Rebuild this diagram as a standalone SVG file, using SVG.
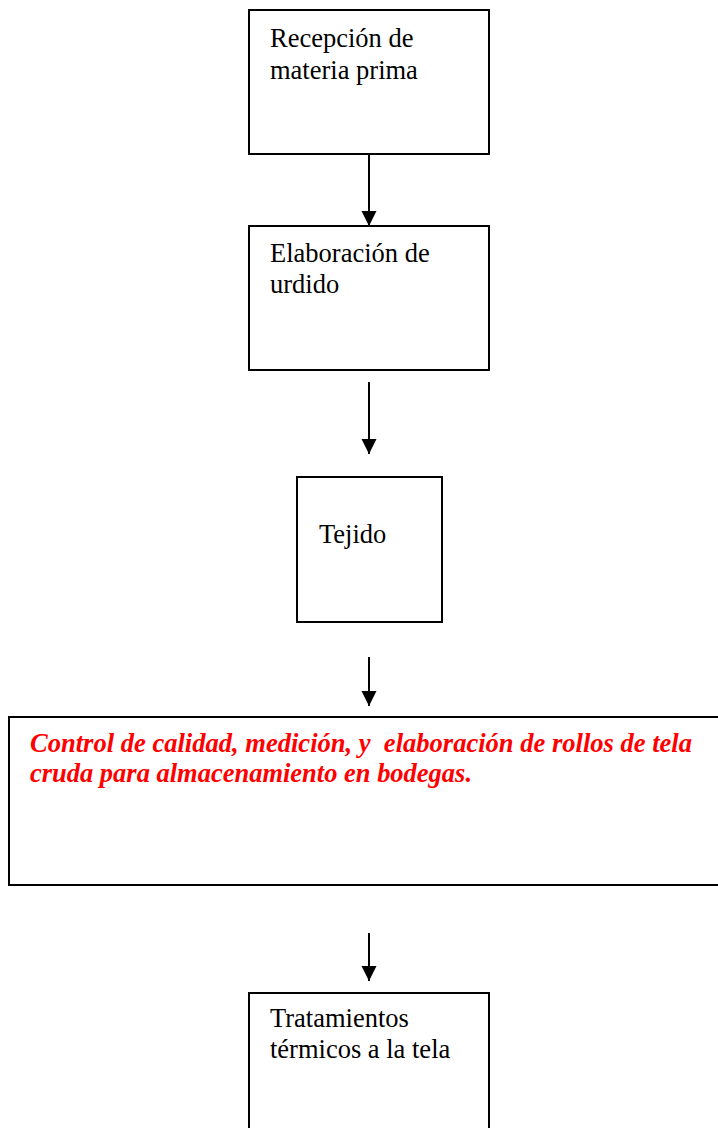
<svg xmlns="http://www.w3.org/2000/svg" width="718" height="1128" viewBox="0 0 718 1128">
<defs>
<marker id="ah" markerUnits="userSpaceOnUse" markerWidth="16" markerHeight="16" refX="15" refY="7.5" orient="auto">
<path d="M0,0 L15,7.5 L0,15 Z" fill="#000"/>
</marker>
<style>
.box{fill:#fff;stroke:#000;stroke-width:2}
.t{font-family:"Liberation Serif","Times New Roman",serif;font-size:26.5px;fill:#000}
.r{font-family:"Liberation Serif","Times New Roman",serif;font-size:27px;font-weight:bold;font-style:italic;fill:#ff0000}
.c{stroke:#000;stroke-width:2;fill:none}
</style>
</defs>
<rect width="718" height="1128" fill="#fff"/>
<g id="connectors">
<line class="c" x1="369" y1="154" x2="369" y2="226" marker-end="url(#ah)"/>
<line class="c" x1="369" y1="382" x2="369" y2="454" marker-end="url(#ah)"/>
<line class="c" x1="369" y1="657" x2="369" y2="706" marker-end="url(#ah)"/>
<line class="c" x1="369" y1="933" x2="369" y2="981" marker-end="url(#ah)"/>
</g>
<g id="n1">
<rect class="box" x="249" y="10" width="240" height="144"/>
<text class="t" x="270" y="47">Recepción de</text>
<text class="t" x="270" y="79">materia prima</text>
</g>
<g id="n2">
<rect class="box" x="249" y="226" width="240" height="144"/>
<text class="t" x="270" y="262">Elaboración de</text>
<text class="t" x="270" y="293">urdido</text>
</g>
<g id="n3">
<rect class="box" x="297" y="477" width="145" height="145"/>
<text class="t" x="319" y="543">Tejido</text>
</g>
<g id="n4">
<rect class="box" x="9" y="717" width="712" height="168"/>
<text class="r" x="30" y="752" textLength="662" lengthAdjust="spacingAndGlyphs" xml:space="preserve">Control de calidad, medición, y  elaboración de rollos de tela</text>
<text class="r" x="30" y="782" textLength="442" lengthAdjust="spacingAndGlyphs">cruda para almacenamiento en bodegas.</text>
</g>
<g id="n5">
<rect class="box" x="249" y="993" width="240" height="144"/>
<text class="t" x="270" y="1027">Tratamientos</text>
<text class="t" x="270" y="1058">térmicos a la tela</text>
</g>
</svg>
